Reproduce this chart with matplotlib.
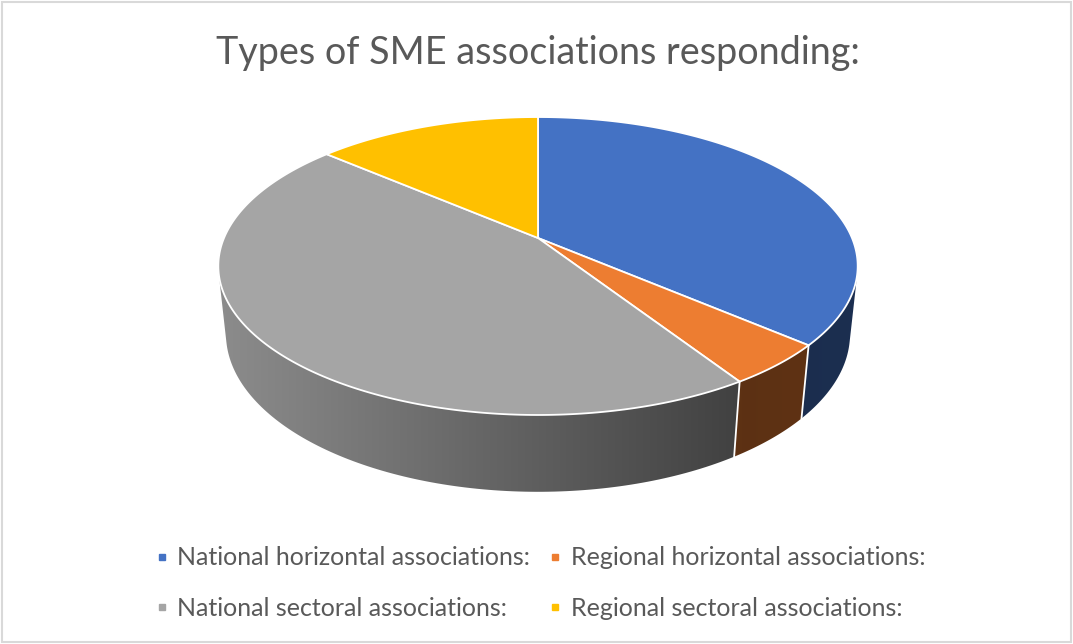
import numpy as np
import matplotlib
matplotlib.use("Agg")
import matplotlib.pyplot as plt
from matplotlib.patches import Polygon, Rectangle
from matplotlib.lines import Line2D

# data
labels = ["National horizontal associations:", "Regional horizontal associations:",
          "National sectoral associations:", "Regional sectoral associations:"]
counts = [8, 1, 10, 3]
colors = ["#4472C4", "#ED7D31", "#A5A5A5", "#FFC000"]
title = "Types of SME associations responding:"

plt.rcParams['font.family'] = ['Lato', 'DejaVu Sans']

# 3d view of the pie (pixel space)
cx, cy = 538, 238
S = 314
sin_e = 0.4577
cos_e = np.sqrt(1 - sin_e ** 2)
D = 4.73
thick = 0.245


def project(phi_deg, y):
    phi = np.radians(phi_deg)
    x = np.sin(phi)
    z = -np.cos(phi)
    v = y * cos_e - z * sin_e
    w = y * sin_e + z * cos_e
    s = D / (D - w)
    return cx + S * x * s, cy - S * v * s


def shade(X):
    return np.interp(X, [217, 745, 860], [0.85, 0.39, 0.41])


fig = plt.figure(figsize=(10.73, 6.44), dpi=100)
ax = fig.add_axes([0, 0, 1, 1])
ax.set_xlim(0, 1073)
ax.set_ylim(644, 0)
ax.axis('off')

total = float(sum(counts))
bounds = np.concatenate([[0], np.cumsum(counts) / total * 360])

# visible part of the side wall
lim = np.degrees(np.arccos(1 / (D * cos_e)))
vis_lo, vis_hi = 180 - lim, 180 + lim

# side walls with shading
gx = np.linspace(200, 880, 400)
for i in range(len(counts)):
    a, b = max(bounds[i], vis_lo), min(bounds[i + 1], vis_hi)
    if a >= b:
        continue
    ph = np.linspace(a, b, 120)
    tx, ty = project(ph, 0)
    bx, by = project(ph[::-1], -thick)
    poly = Polygon(np.column_stack([np.r_[tx, bx], np.r_[ty, by]]),
                   closed=True, facecolor='none', edgecolor='none')
    ax.add_patch(poly)
    rgb = np.array(matplotlib.colors.to_rgb(colors[i]))
    img = (shade(gx)[:, None] * rgb[None, :])[None, :, :]
    im = ax.imshow(img, extent=[200, 880, 520, 240], aspect='auto',
                   interpolation='bilinear', zorder=1)
    im.set_clip_path(poly)

for bnd in bounds:
    if vis_lo < bnd < vis_hi:
        x0, y0 = project(bnd, 0)
        x1, y1 = project(bnd, -thick)
        ax.plot([x0, x1], [y0, y1], color='white', lw=1.3, zorder=2)

# top faces
for i in range(len(counts)):
    ph = np.linspace(bounds[i], bounds[i + 1], 200)
    tx, ty = project(ph, 0)
    pts = np.column_stack([np.r_[cx, tx], np.r_[cy, ty]])
    ax.add_patch(Polygon(pts, closed=True, facecolor=colors[i],
                         edgecolor='white', lw=1.3, joinstyle='round', zorder=3))

ax.text(538, 64, title, ha='center', va='baseline', fontsize=27.2, color='#595959')

order = [0, 2, 1, 3]
handles = [Line2D([], [], marker='s', linestyle='none', markersize=5,
                  markerfacecolor=colors[k], markeredgecolor=colors[k]) for k in order]
ax.legend(handles, [labels[k] for k in order], ncol=2, loc='center',
          bbox_to_anchor=(540 / 1073, 1 - 583 / 644), frameon=False,
          fontsize=18, labelcolor='#595959', handlelength=0.6, handletextpad=0.33,
          columnspacing=0.7, labelspacing=1.1, borderpad=0)

ax.add_patch(Rectangle((2, 2), 1069, 640, fill=False, edgecolor='#d9d9d9', lw=1.5))

fig.savefig("out.png", dpi=100)
